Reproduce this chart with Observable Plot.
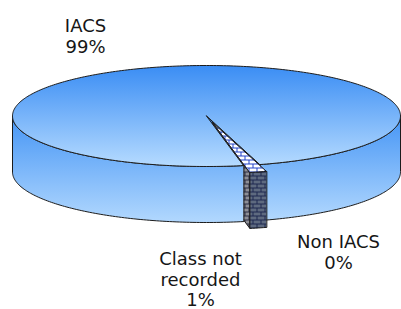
<!DOCTYPE html>
<html><head><meta charset="utf-8">
<script src="https://cdn.jsdelivr.net/npm/d3@7"></script>
<script src="https://cdn.jsdelivr.net/npm/@observablehq/plot@0.6"></script>
<style>html,body{margin:0;padding:0;background:#fff;} #chart svg{display:block}</style>
</head><body>
<svg width="0" height="0" style="position:absolute">
<defs>
  <linearGradient id="topGrad" x1="0" y1="0" x2="0" y2="1">
    <stop offset="0" stop-color="#3a8df4"/><stop offset="1" stop-color="#b6dbff"/>
  </linearGradient>
  <linearGradient id="sideGrad" x1="0" y1="0" x2="0" y2="1">
    <stop offset="0" stop-color="#4595f5"/><stop offset="1" stop-color="#b2d8fe"/>
  </linearGradient>
  <linearGradient id="cutGrad" x1="0" y1="0" x2="0" y2="1">
    <stop offset="0" stop-color="#2b7fe6"/><stop offset="1" stop-color="#7db8f7"/>
  </linearGradient>
  <pattern id="brickDark" width="8" height="8" patternUnits="userSpaceOnUse">
    <rect width="8" height="8" fill="#1e2850"/>
    <rect x="1" y="0" width="7" height="3" fill="#5e6a80"/>
    <rect x="-3" y="4" width="7" height="3" fill="#5e6a80"/>
    <rect x="5" y="4" width="7" height="3" fill="#5e6a80"/>
  </pattern>
  <pattern id="brickLight" width="8" height="8" patternUnits="userSpaceOnUse">
    <rect width="8" height="8" fill="#2a2d45"/>
    <rect x="1" y="0" width="7" height="3" fill="#8d8f95"/>
    <rect x="-3" y="4" width="7" height="3" fill="#8d8f95"/>
    <rect x="5" y="4" width="7" height="3" fill="#8d8f95"/>
  </pattern>
  <pattern id="brickTop" width="8" height="8" patternUnits="userSpaceOnUse">
    <rect width="8" height="8" fill="#2444c8"/>
    <rect x="1" y="0" width="7" height="3" fill="#ffffff"/>
    <rect x="-3" y="4" width="7" height="3" fill="#ffffff"/>
    <rect x="5" y="4" width="7" height="3" fill="#ffffff"/>
  </pattern>
</defs>
</svg>
<div id="chart"></div>
<script>
// ---- data ----
const categories = ["IACS", "Non IACS", "Class not recorded"];
const shares = [98.6, 0, 1.4];           // percent of records
const labelNames = ["IACS", "Non IACS", "Class not\nrecorded"];

// ---- layout (positions / styles) ----
const layout = {
  width: 401, height: 309,
  cx: 206, cy: 115.5, rx: 194, ry: 50.5, depth: 56,
  firstSliceAngle: 169,
  explode: {"Class not recorded": 0.14},
  labelPos: {"IACS": [85, 17], "Non IACS": [338, 233], "Class not recorded": [200, 250]},
  fontSize: 18, lineHeightPx: 20.5
};

const total = d3.sum(shares);
const rad = d => d * Math.PI / 180;
const dz = layout.depth / layout.ry;

let acc = layout.firstSliceAngle;
const slices = categories.map((c, i) => {
  const a0 = acc - 90;
  acc += shares[i] / total * 360;
  const a1 = acc - 90;
  const e = layout.explode[c] || 0;
  const m = rad((a0 + a1) / 2);
  return {c, i, share: shares[i], a0, a1, ox: e * Math.cos(m), oy: e * Math.sin(m), exploded: e > 0};
});

function arcPts(s, b0, b1, z) {
  const n = Math.max(2, Math.ceil(Math.abs(b1 - b0)) + 1);
  const pts = [];
  for (let k = 0; k < n; k++) {
    const t = rad(b0 + (b1 - b0) * k / (n - 1));
    pts.push([s.ox + Math.cos(t), s.oy + Math.sin(t) + z]);
  }
  return pts;
}
function topPoly(s) {
  const pts = arcPts(s, s.a0, s.a1, 0);
  if (s.a1 - s.a0 < 359.9) pts.unshift([s.ox, s.oy]);
  return pts;
}
function bandPoly(s, b0, b1) {
  return arcPts(s, b0, b1, 0).concat(arcPts(s, b1, b0, dz));
}
function radialPoly(s, a) {
  const t = rad(a);
  const px = s.ox + Math.cos(t), py = s.oy + Math.sin(t);
  return [[s.ox, s.oy], [px, py], [px, py + dz], [s.ox, s.oy + dz]];
}
function bandIntervals(s) {
  const out = [];
  for (let k = -1; k <= 2; k++) {
    const lo = Math.max(s.a0, 360 * k), hi = Math.min(s.a1, 360 * k + 180);
    if (hi - lo > 0.01) out.push([lo, hi]);
  }
  return out;
}
function visibleRadials(s) {
  const r = [];
  if (Math.cos(rad(s.a0)) < 0) r.push(s.a0);
  if (Math.cos(rad(s.a1)) > 0) r.push(s.a1);
  return r;
}

const drawn = slices.filter(s => s.share > 0);
const big = drawn.filter(s => !s.exploded);
const exp = drawn.filter(s => s.exploded);
const expMid = exp.length ? (exp[0].a0 + exp[0].a1) / 2 % 360 : 90;

const polys = []; // {pts, fill}
const add = (pts, fill) => polys.push({pts, fill});
// 1. cut faces of the main slices
big.forEach(s => visibleRadials(s).forEach(a => add(radialPoly(s, a), "url(#cutGrad)")));
// 2. side band of main slices behind (right of) the exploded slice
big.forEach(s => bandIntervals(s).forEach(([b0, b1]) => {
  const mid = (((b0 + b1) / 2) % 360 + 360) % 360;
  if (mid < expMid) add(bandPoly(s, b0, b1), "url(#sideGrad)");
}));
// 3. exploded slice sides
exp.forEach(s => visibleRadials(s).forEach(a => add(radialPoly(s, a), "url(#brickLight)")));
exp.forEach(s => bandIntervals(s).forEach(([b0, b1]) => add(bandPoly(s, b0, b1), "url(#brickDark)")));
// 4. side band of main slices in front (left) of it
big.forEach(s => bandIntervals(s).forEach(([b0, b1]) => {
  const mid = (((b0 + b1) / 2) % 360 + 360) % 360;
  if (mid >= expMid) add(bandPoly(s, b0, b1), "url(#sideGrad)");
}));
// 5. tops
big.forEach(s => add(topPoly(s), "url(#topGrad)"));
exp.forEach(s => add(topPoly(s), "url(#brickTop)"));

const marks = polys.map((p, j) => Plot.line(p.pts.map(([x, y]) => ({x, y})), {
  x: "x", y: "y", curve: "linear-closed", fill: p.fill,
  stroke: "#1c1c1c", strokeWidth: 1, strokeLinejoin: "round"
}));

const labels = slices.map(s => {
  const [px, py] = layout.labelPos[s.c];
  return {
    x: (px - layout.cx) / layout.rx,
    y: (py - layout.cy) / layout.ry,
    text: labelNames[s.i] + "\n" + Math.round(s.share) + "%"
  };
});
marks.push(Plot.text(labels, {
  x: "x", y: "y", text: "text", textAnchor: "middle", lineAnchor: "top",
  fontSize: layout.fontSize, lineHeight: layout.lineHeightPx / layout.fontSize,
  fill: "#161616"
}));

const chart = Plot.plot({
  width: layout.width, height: layout.height,
  margin: 0,
  x: {domain: [-1, 1], range: [layout.cx - layout.rx, layout.cx + layout.rx], axis: null},
  y: {domain: [-1, 1], range: [layout.cy - layout.ry, layout.cy + layout.ry], axis: null},
  style: {fontFamily: "'DejaVu Sans', Verdana, sans-serif", background: "#fff", overflow: "visible"},
  marks
});
document.getElementById("chart").appendChild(chart);
</script>
</body></html>
